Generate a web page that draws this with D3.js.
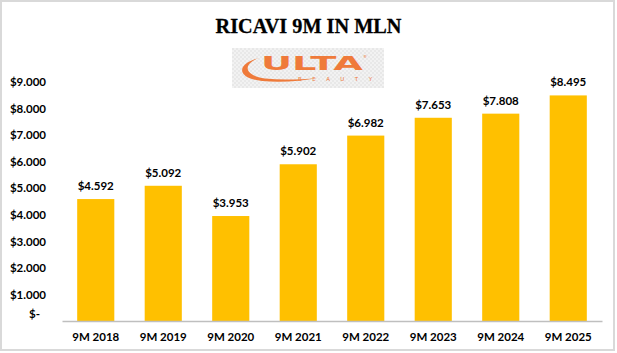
<!DOCTYPE html>
<html>
<head>
<meta charset="utf-8">
<script src="https://cdn.jsdelivr.net/npm/d3@7"></script>
<style>
  body { margin: 0; background: #fff; }
  svg { display: block; }
</style>
</head>
<body>
<div id="chart"></div>
<script>
// ricavi 9M, in milioni di $
var categories = ['9M 2018', '9M 2019', '9M 2020', '9M 2021', '9M 2022', '9M 2023', '9M 2024', '9M 2025'];
var revenues   = [4592, 5092, 3953, 5902, 6982, 7653, 7808, 8495];
var valueLabels = ['$4.592', '$5.092', '$3.953', '$5.902', '$6.982', '$7.653', '$7.808', '$8.495'];
var tickValues = [0, 1000, 2000, 3000, 4000, 5000, 6000, 7000, 8000, 9000];
var tickLabels = ['$-', '$1.000', '$2.000', '$3.000', '$4.000', '$5.000', '$6.000', '$7.000', '$8.000', '$9.000'];

var width = 617,
    height = 353;

var margin = { top: 82, right: 15, bottom: 32, left: 62 };

var svg = d3.select('#chart').append('svg')
    .attr('width', width)
    .attr('height', height);

// cornice
svg.append('rect')
    .attr('x', 1).attr('y', 1)
    .attr('width', width - 4).attr('height', height - 4)
    .attr('fill', '#fff')
    .attr('stroke', '#d9d9d9')
    .attr('stroke-width', 2);

var xScale = d3.scaleBand()
    .domain(categories)
    .range([margin.left, width - margin.right])
    .paddingInner(0.45)
    .paddingOuter(0.225);

var yScale = d3.scaleLinear()
    .domain([0, 9000])
    .range([height - margin.bottom, margin.top]);

// titolo
svg.append('text')
    .attr('x', 308.5)
    .attr('y', 32.5)
    .attr('text-anchor', 'middle')
    .attr('textLength', 186)
    .attr('lengthAdjust', 'spacingAndGlyphs')
    .style('font-family', '"Liberation Serif", serif')
    .style('font-weight', 'bold')
    .style('font-size', '22px')
    .style('fill', '#000')
    .style('stroke', '#000')
    .style('stroke-width', 0.3)
    .text('RICAVI 9M IN MLN');

// logo
var defs = svg.append('defs');
var pat = defs.append('pattern')
    .attr('id', 'checker')
    .attr('width', 4).attr('height', 4)
    .attr('patternUnits', 'userSpaceOnUse');
pat.append('rect').attr('width', 4).attr('height', 4).attr('fill', '#f2f2f2');
pat.append('rect').attr('width', 2).attr('height', 2).attr('fill', '#e8e8e8');
pat.append('rect').attr('x', 2).attr('y', 2).attr('width', 2).attr('height', 2).attr('fill', '#e8e8e8');

var logoColor = '#ef7a3a';
var logo = svg.append('g');
logo.append('rect')
    .attr('x', 232).attr('y', 48)
    .attr('width', 152).attr('height', 40)
    .attr('fill', 'url(#checker)');
logo.append('path')
    .attr('d', 'M259,58 C236,64 236,78 262,81 C282,83 300,81 318,78 C300,79.5 282,80.5 265,78.5 C243,75 243,64 259,58 Z')
    .attr('fill', logoColor);
logo.append('text')
    .attr('x', 261).attr('y', 70)
    .attr('textLength', 102)
    .attr('lengthAdjust', 'spacingAndGlyphs')
    .style('font-family', '"DejaVu Sans", sans-serif')
    .style('font-weight', 'bold')
    .style('font-size', '20px')
    .style('fill', logoColor)
    .text('ULTA');
logo.append('text')
    .attr('x', 298).attr('y', 80.5)
    .attr('textLength', 74)
    .attr('lengthAdjust', 'spacing')
    .style('font-family', '"DejaVu Sans", sans-serif')
    .style('font-size', '5.5px')
    .style('fill', logoColor)
    .text('BEAUTY');
logo.append('text')
    .attr('x', 363).attr('y', 58)
    .style('font-family', '"DejaVu Sans", sans-serif')
    .style('font-size', '4px')
    .style('fill', logoColor)
    .text('®');

// asse y (solo etichette)
var yAxis = d3.axisLeft(yScale)
    .tickValues(tickValues)
    .tickSize(0)
    .tickPadding(16)
    .tickFormat(function(d, i) { return tickLabels[i]; });

var gy = svg.append('g')
    .attr('transform', 'translate(' + margin.left + ',0)')
    .call(yAxis);
gy.select('.domain').remove();
gy.selectAll('text')
    .style('font-family', 'Lato, sans-serif')
    .style('font-weight', 'bold')
    .style('font-size', '11.5px')
    .style('fill', '#000')
    .attr('dy', function(d) { return d === 0 ? '-0.3em' : '0.32em'; })
    .attr('dx', function(d) { return d === 0 ? '-6px' : 0; });

// barre
svg.selectAll('rect.bar').data(revenues)
    .enter().append('rect')
        .attr('class', 'bar')
        .style('fill', '#ffc000')
        .attr('x', function(d, i) { return xScale(categories[i]); })
        .attr('width', xScale.bandwidth())
        .attr('y', function(d) { return yScale(d); })
        .attr('height', function(d) { return yScale(0) - yScale(d); });

// etichette valori
svg.selectAll('text.val').data(revenues)
    .enter().append('text')
        .attr('class', 'val')
        .attr('x', function(d, i) { return xScale(categories[i]) + xScale.bandwidth() / 2; })
        .attr('y', function(d) { return yScale(d) - 9; })
        .attr('text-anchor', 'middle')
        .style('font-family', 'Lato, sans-serif')
        .style('font-weight', 'bold')
        .style('font-size', '11.5px')
        .style('fill', '#000')
        .text(function(d, i) { return valueLabels[i]; });

// asse x
var xAxis = d3.axisBottom(xScale)
    .tickSize(0)
    .tickPadding(12);

var gx = svg.append('g')
    .attr('transform', 'translate(0,' + yScale(0) + ')')
    .call(xAxis);
gx.select('.domain')
    .attr('stroke', '#bfbfbf')
    .attr('stroke-width', 1.5);
gx.selectAll('text')
    .style('font-family', 'Lato, sans-serif')
    .style('font-weight', 'bold')
    .style('font-size', '11.5px')
    .style('fill', '#000');
</script>
</body>
</html>
